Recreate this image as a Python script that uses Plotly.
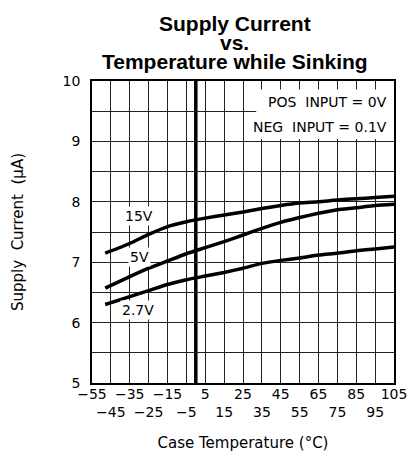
import plotly.graph_objects as go

# ---- data ----
temps = [-48, -35, -25, -15, -5, 5, 15, 25, 35, 45, 55, 65, 75, 85, 95, 105]
i_15v = [7.15, 7.31, 7.46, 7.59, 7.67, 7.73, 7.78, 7.83, 7.89, 7.94, 7.98, 8.00, 8.03, 8.05, 8.07, 8.09]
i_5v = [6.57, 6.76, 6.90, 7.02, 7.14, 7.24, 7.34, 7.45, 7.56, 7.66, 7.74, 7.81, 7.87, 7.90, 7.94, 7.96]
i_2v7 = [6.30, 6.43, 6.53, 6.63, 6.71, 6.77, 6.83, 6.90, 6.98, 7.03, 7.07, 7.12, 7.15, 7.19, 7.22, 7.25]

series_names = ["15V", "5V", "2.7V"]
label_x = [-30, -30, -30.4]
label_y = [7.77, 7.08, 6.21]

x_tick_vals = list(range(-55, 106, 10))
x_tick_row1 = ["\u221255", "\u221235", "\u221215", "5", "25", "45", "65", "85", "105"]
x_tick_row2 = ["\u221245", "\u221225", "\u22125", "15", "35", "55", "75", "95"]
y_tick_vals = [5, 5.5, 6, 6.5, 7, 7.5, 8, 8.5, 9, 9.5, 10]
y_tick_text = ["5", "", "6", "", "7", "", "8", "", "9", "", "10"]

title_lines = ["Supply Current", "vs.", "Temperature while Sinking"]
cond_lines = ["POS\u00a0\u00a0INPUT = 0V", "NEG\u00a0\u00a0INPUT = 0.1V"]
cond_y = [9.659, 9.243]
ref_temp = 0

# build alternating two-row tick labels
x_tick_text = []
r1 = iter(x_tick_row1)
r2 = iter(x_tick_row2)
for k, v in enumerate(x_tick_vals):
    if k % 2 == 0:
        x_tick_text.append(next(r1))
    else:
        x_tick_text.append("\u00a0<br>" + next(r2))

FONT = "DejaVu Sans"
fig = go.Figure()
for ys in (i_15v, i_5v, i_2v7):
    fig.add_trace(go.Scatter(x=temps, y=ys, mode="lines",
                             line=dict(color="black", width=3.5, shape="spline", smoothing=0.6),
                             showlegend=False, hoverinfo="skip"))

fig.add_vline(x=ref_temp, line_color="black", line_width=3.5, layer="below")

# white box behind the condition text
fig.add_shape(type="rect", xref="x", yref="y", x0=32, x1=105, y0=9.04, y1=9.86,
              fillcolor="white", line_width=0, layer="between")

for t, yy in zip(cond_lines, cond_y):
    fig.add_annotation(text=t, xref="paper", yref="y", x=0.985, y=yy,
                       xanchor="right", yanchor="middle", showarrow=False,
                       font=dict(family=FONT, size=14, color="black"))

for name, lx, ly in zip(series_names, label_x, label_y):
    fig.add_annotation(text=name, x=lx, y=ly, xref="x", yref="y", showarrow=False,
                       bgcolor="white", borderpad=1,
                       font=dict(family=FONT, size=14, color="black"))

title_y = [1.190, 1.129, 1.066]
for t, yy in zip(title_lines, title_y):
    fig.add_annotation(text="<b>" + t + "</b>", xref="paper", yref="paper", x=0.4735, y=yy,
                       xanchor="center", yanchor="middle", showarrow=False,
                       font=dict(family="Liberation Sans, Arial", size=21, color="black"))

fig.update_layout(
    width=409, height=452,
    margin=dict(l=92, r=15, t=81, b=69, autoexpand=False),
    paper_bgcolor="white", plot_bgcolor="white",
    font=dict(family=FONT, size=14, color="black"),
    xaxis=dict(range=[-55, 105], tickvals=x_tick_vals, ticktext=x_tick_text, tickangle=0,
               showgrid=True, gridcolor="#222", gridwidth=1, zeroline=False,
               showline=True, linecolor="black", linewidth=1.5, mirror=True,
               ticks="", ticklabelstandoff=-3, automargin=False, ticklabeloverflow="allow",
               tickfont=dict(family=FONT, size=14),
               title=dict(text="Case Temperature (\u00b0C)", font=dict(family=FONT, size=15), standoff=25)),
    yaxis=dict(range=[5, 10], tickvals=y_tick_vals, ticktext=y_tick_text,
               showgrid=True, gridcolor="#222", gridwidth=1, zeroline=False,
               showline=True, linecolor="black", linewidth=1.5, mirror=True,
               ticks="", ticklabelstandoff=7, automargin=False,
               tickfont=dict(family=FONT, size=14),
               title=dict(text="Supply\u00a0\u00a0Current\u00a0\u00a0(\u00b5A)", font=dict(family=FONT, size=15), standoff=35)),
)

# remove the default 8px page margin so the figure fills the window exactly
fig.write_html("out.html", config={"displayModeBar": False},
               post_script="document.body.style.margin='0';")
